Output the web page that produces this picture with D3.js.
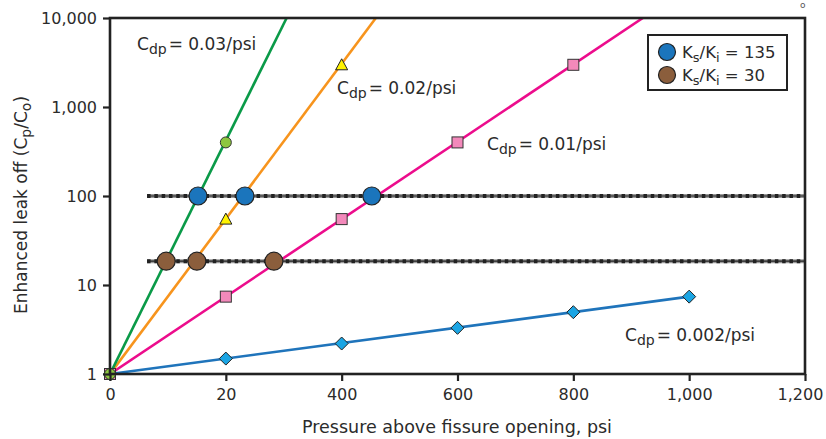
<!DOCTYPE html>
<html>
<head>
<meta charset="utf-8">
<script src="https://cdn.jsdelivr.net/npm/d3@7"></script>
<style>
  body { margin: 0; background: #fff; }
  svg { display: block; font-family: "DejaVu Sans", Verdana, sans-serif; }
</style>
</head>
<body>
<svg id="chart" width="826" height="439"></svg>
<script>
// ---- data ----
const xTicks = [0, 200, 400, 600, 800, 1000, 1200];
const xTickLabels = ['0', '20', '400', '600', '800', '1,000', '1,200'];
const yTicks = [1, 10, 100, 1000, 10000];
const yTickLabels = ['1', '10', '100', '1,000', '10,000'];

// straight lines (in log space), end points
const line003 = [[0, 1], [305, 10000]];
const line002 = [[0, 1], [459, 10000]];
const line001 = [[0, 1], [920, 10000]];
const line0002 = [[0, 1], [1000, 7.4]];

// markers
const circlePts = [[0, 1], [200, 400]];
const trianglePts = [[200, 55], [400, 2980]];
const squarePts = [[0, 1], [200, 7.4], [400, 55], [600, 400], [800, 2980]];
const diamondPts = [[0, 1], [200, 1.49], [400, 2.2], [600, 3.3], [800, 4.95], [1000, 7.4]];

// reference levels and the big circles on them
const level135 = 100;
const level30 = 18.5;
const levelStart = 64;
const ks135X = [152, 233, 452];
const ks30X = [97, 150, 283];

const width = 826, height = 439;
const margin = { top: 18, right: 21, bottom: 65, left: 110 };

const svg = d3.select('#chart');

const x = d3.scaleLinear()
  .domain([0, 1200])
  .range([margin.left, width - margin.right]);

const y = d3.scaleLog()
  .domain([1, 10000])
  .range([height - margin.bottom, margin.top]);

const textColor = '#2b2b2b';

// dotted reference lines
function refLine(v) {
  const g = svg.append('g');
  g.append('line')
    .attr('x1', x(levelStart)).attr('x2', x(1200))
    .attr('y1', y(v)).attr('y2', y(v))
    .attr('stroke', '#9a9a9a').attr('stroke-width', 4);
  g.append('line')
    .attr('x1', x(levelStart)).attr('x2', x(1200))
    .attr('y1', y(v)).attr('y2', y(v))
    .attr('stroke', '#222').attr('stroke-width', 1.2);
  g.append('line')
    .attr('x1', x(levelStart)).attr('x2', x(1200))
    .attr('y1', y(v)).attr('y2', y(v))
    .attr('stroke', '#222').attr('stroke-width', 4)
    .attr('stroke-dasharray', '3.5,3.8');
}
refLine(level135);
refLine(level30);

// clip lines to plot area
svg.append('clipPath').attr('id', 'plotclip')
  .append('rect')
  .attr('x', margin.left).attr('y', margin.top)
  .attr('width', width - margin.left - margin.right)
  .attr('height', height - margin.top - margin.bottom);

const lineGen = d3.line()
  .x(d => x(d[0]))
  .y(d => y(d[1]));

const lines = [
  { data: line0002, color: '#1f74bb' },
  { data: line001, color: '#ec0c8c' },
  { data: line002, color: '#f7941d' },
  { data: line003, color: '#0a9a48' },
];

svg.append('g').attr('clip-path', 'url(#plotclip)')
  .selectAll('path')
  .data(lines)
  .join('path')
  .attr('d', d => lineGen(d.data))
  .attr('fill', 'none')
  .attr('stroke', d => d.color)
  .attr('stroke-width', 2.6);

// markers
svg.append('g').selectAll('rect')
  .data(squarePts)
  .join('rect')
  .attr('x', d => x(d[0]) - 5.5)
  .attr('y', d => y(d[1]) - 5.5)
  .attr('width', 11).attr('height', 11)
  .attr('fill', '#f389bb')
  .attr('stroke', '#333').attr('stroke-width', 1);

svg.append('g').selectAll('path')
  .data(diamondPts)
  .join('path')
  .attr('d', d => {
    const cx = x(d[0]), cy = y(d[1]), r = 6.5;
    return `M${cx},${cy - r}L${cx + r},${cy}L${cx},${cy + r}L${cx - r},${cy}Z`;
  })
  .attr('fill', '#1ba5e4')
  .attr('stroke', '#222').attr('stroke-width', 1);

svg.append('g').selectAll('path')
  .data(trianglePts)
  .join('path')
  .attr('d', d => {
    const cx = x(d[0]), cy = y(d[1]);
    return `M${cx},${cy - 6}L${cx + 6},${cy + 5}L${cx - 6},${cy + 5}Z`;
  })
  .attr('fill', '#fff200')
  .attr('stroke', '#222').attr('stroke-width', 1);

svg.append('g').selectAll('circle')
  .data(circlePts)
  .join('circle')
  .attr('cx', d => x(d[0]))
  .attr('cy', d => y(d[1]))
  .attr('r', 5.5)
  .attr('fill', '#8dc63f')
  .attr('stroke', '#333').attr('stroke-width', 1);

// big circles
svg.append('g').selectAll('circle')
  .data(ks135X)
  .join('circle')
  .attr('cx', d => x(d))
  .attr('cy', y(level135))
  .attr('r', 9)
  .attr('fill', '#1b75bc')
  .attr('stroke', '#222').attr('stroke-width', 1.2);

svg.append('g').selectAll('circle')
  .data(ks30X)
  .join('circle')
  .attr('cx', d => x(d))
  .attr('cy', y(level30))
  .attr('r', 9)
  .attr('fill', '#8b5e3c')
  .attr('stroke', '#222').attr('stroke-width', 1.2);

// axes
const xAxis = d3.axisBottom(x)
  .tickValues(xTicks)
  .tickFormat((d, i) => xTickLabels[i])
  .tickSize(7)
  .tickPadding(8);

const yAxis = d3.axisLeft(y)
  .tickValues(yTicks)
  .tickFormat((d, i) => yTickLabels[i])
  .tickSize(7)
  .tickPadding(6);

const gx = svg.append('g')
  .attr('transform', `translate(0,${height - margin.bottom})`)
  .call(xAxis);
const gy = svg.append('g')
  .attr('transform', `translate(${margin.left},0)`)
  .call(yAxis);

[gx, gy].forEach(g => {
  g.select('.domain').remove();
  g.selectAll('.tick line').attr('stroke', '#222').attr('stroke-width', 2.2);
  g.selectAll('.tick text')
    .attr('fill', textColor)
    .style('font-size', '16px')
    .style('font-family', '"DejaVu Sans", Verdana, sans-serif');
});
// last label sits a bit left of its tick in the original so it fits the page
gx.selectAll('.tick text').filter(d => d === 1200).attr('dx', -5);

// frame
svg.append('rect')
  .attr('x', margin.left).attr('y', margin.top)
  .attr('width', width - margin.left - margin.right)
  .attr('height', height - margin.top - margin.bottom)
  .attr('fill', 'none')
  .attr('stroke', '#222').attr('stroke-width', 2.6);

// axis titles
svg.append('text')
  .attr('x', 457)
  .attr('y', 433)
  .attr('text-anchor', 'middle')
  .attr('fill', textColor)
  .style('font-size', '17.5px')
  .text('Pressure above fissure opening, psi');

const yt = svg.append('text')
  .attr('transform', `translate(27,${(margin.top + height - margin.bottom) / 2 + 9}) rotate(-90)`)
  .attr('text-anchor', 'middle')
  .attr('fill', textColor)
  .style('font-size', '17px');
yt.append('tspan').text('Enhanced leak off (C');
yt.append('tspan').attr('baseline-shift', '-25%').style('font-size', '14px').text('p');
yt.append('tspan').text('/C');
yt.append('tspan').attr('baseline-shift', '-25%').style('font-size', '14px').text('o');
yt.append('tspan').text(')');

// C_dp annotations
const cdpLabels = [
  { px: 137, py: 50, value: '0.03/psi' },
  { px: 337, py: 94, value: '0.02/psi' },
  { px: 487, py: 150, value: '0.01/psi' },
  { px: 625, py: 341, value: '0.002/psi' },
];

cdpLabels.forEach(l => {
  const t = svg.append('text')
    .attr('x', l.px).attr('y', l.py)
    .attr('fill', textColor)
    .style('font-size', '17px');
  t.append('tspan').text('C');
  t.append('tspan').attr('baseline-shift', '-30%').style('font-size', '14px').text('dp');
  t.append('tspan').attr('dx', 2).text('= ' + l.value);
});

// legend
const legend = svg.append('g');
legend.append('rect')
  .attr('x', 648).attr('y', 35)
  .attr('width', 139).attr('height', 55)
  .attr('fill', '#fff')
  .attr('stroke', '#222').attr('stroke-width', 2);

const legendItems = [
  { color: '#1b75bc', value: '135', cy: 52 },
  { color: '#8b5e3c', value: '30', cy: 75 },
];
legendItems.forEach(it => {
  legend.append('circle')
    .attr('cx', 667).attr('cy', it.cy).attr('r', 8.5)
    .attr('fill', it.color)
    .attr('stroke', '#222').attr('stroke-width', 1.2);
  const t = legend.append('text')
    .attr('x', 682).attr('y', it.cy + 6)
    .attr('fill', textColor)
    .style('font-size', '16.5px');
  t.append('tspan').text('K');
  t.append('tspan').attr('baseline-shift', '-30%').style('font-size', '13px').text('s');
  t.append('tspan').text('/K');
  t.append('tspan').attr('baseline-shift', '-30%').style('font-size', '13px').text('i');
  t.append('tspan').text(' = ' + it.value);
});

// cut-off subscript in the top-right corner of the original
svg.append('text')
  .attr('x', 800).attr('y', 8)
  .attr('fill', '#555')
  .style('font-size', '9px')
  .text('o');
</script>
</body>
</html>
